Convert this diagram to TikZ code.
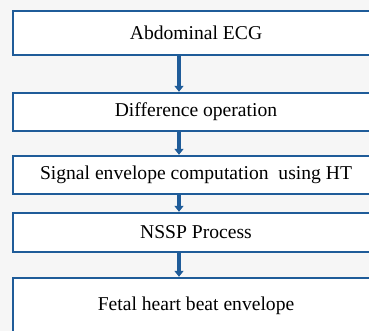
\documentclass[tikz,border=0pt]{standalone}
\usepackage{fontspec}
\setmainfont{Liberation Serif}
\usepackage{xcolor}
\usepackage{tikz}
\usetikzlibrary{calc,arrows.meta}

\definecolor{flowblue}{HTML}{1F5C99}
\definecolor{pagegray}{HTML}{F6F6F6}

\begin{document}
\begin{tikzpicture}[x=1pt, y=-1pt,
		stage/.style={draw=flowblue, line width=2.4pt, fill=white, minimum width=366pt,
			inner sep=0pt, font=\fontsize{19.6}{22}\selectfont},
		flow/.style={flowblue, line width=4pt, -{Triangle[width=9pt,length=6pt]}}]
			\clip (0,0) rectangle (369,331);
			\fill [pagegray] (0,0) rectangle (369,331);
			\node[stage, minimum height=44pt] (ecg) at (196,33) {Abdominal ECG};
			\node[stage, minimum height=38pt] (diff) at (196,112) {Difference operation};
			\node[stage, minimum height=38pt] (envelope) at (196,175) {Signal envelope computation\ \ using HT};
			\node[stage, minimum height=39pt] (nssp) at (196,232.5) {NSSP Process};
			\node[stage, minimum height=56pt] (fetal) at (196,306) {Fetal heart beat envelope};
			\draw [flow] ([xshift=-17pt]ecg.south) -- ([xshift=-17pt]diff.north);
			\draw [flow] ([xshift=-17pt]diff.south) -- ([xshift=-17pt]envelope.north);
			\draw [flow] ([xshift=-17pt]envelope.south) -- ([xshift=-17pt]nssp.north);
			\draw [flow] ([xshift=-17pt]nssp.south) -- ([xshift=-17pt]fetal.north);
		\end{tikzpicture}
\end{document}
